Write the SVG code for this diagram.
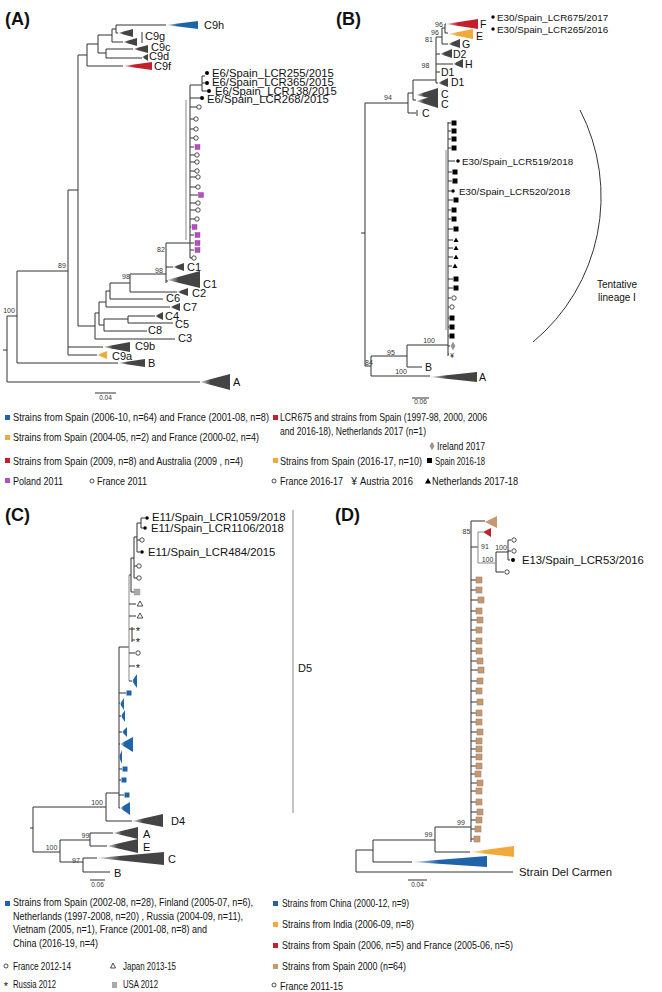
<svg xmlns="http://www.w3.org/2000/svg" width="662" height="992" viewBox="0 0 662 992">
<defs>
<linearGradient id="gGray" x1="0" x2="1" y1="0" y2="0"><stop offset="0" stop-color="#444" stop-opacity="0.15"/><stop offset="0.35" stop-color="#444"/><stop offset="1" stop-color="#444"/></linearGradient>
<linearGradient id="gBlue" x1="0" x2="1" y1="0" y2="0"><stop offset="0" stop-color="#1f64a8" stop-opacity="0.15"/><stop offset="0.35" stop-color="#1f64a8"/><stop offset="1" stop-color="#1f64a8"/></linearGradient>
<linearGradient id="gRed" x1="0" x2="1" y1="0" y2="0"><stop offset="0" stop-color="#c4202c" stop-opacity="0.2"/><stop offset="0.35" stop-color="#c4202c"/><stop offset="1" stop-color="#c4202c"/></linearGradient>
<linearGradient id="gOrange" x1="0" x2="1" y1="0" y2="0"><stop offset="0" stop-color="#f2a93b" stop-opacity="0.2"/><stop offset="0.35" stop-color="#f2a93b"/><stop offset="1" stop-color="#f2a93b"/></linearGradient>
</defs>
<style>
text{font-family:"Liberation Sans",Arial,sans-serif;fill:#111}
.br{fill:none;stroke:#333;stroke-width:1}
.brg{fill:none;stroke:#888;stroke-width:1}
.bsc{font-size:7px;fill:#333;text-anchor:middle}
.cl{font-size:11px}
.clb{font-size:10.5px}
.lf{font-size:11.3px}
.lf2{font-size:9.8px}
.lg{font-size:10.3px}
.pl{font-size:18px;font-weight:bold}
.sc{font-size:6.5px;text-anchor:middle;fill:#333}
.oc{fill:#fff;stroke:#222;stroke-width:0.8}
.dt{fill:#000}
.ast{font-size:11px;text-anchor:middle}
.gy{fill:url(#gGray)}
.bl{fill:url(#gBlue)}
.rd{fill:url(#gRed)}
.or{fill:url(#gOrange)}
.pu{fill:#b54fc0;stroke:#8a3a94;stroke-width:0.4}
.bk{fill:#000}
.tn{fill:#c9976d;stroke:#9a8878;stroke-width:0.6}
.bsq{fill:#1f64a8}
</style>

<!-- ================= PANEL A ================= -->
<g id="panelA">
<text class="pl" x="5" y="25">(A)</text>
<g id="A-connectors">
<path class="br" d="M3,350H7 M7,316V382 M7,316H17 M7,382H200 M17,271V363 M17,363H118 M17,271H68 M68,190V355 M68,190H78 M68,347H103 M68,355H97 M78,55V326 M78,55H87 M87,44V66 M87,66H123 M87,44H98 M98,35V53 M98,35H112 M112,29V42 M112,29H116 M116,25V33 M116,25H166 M116,33H118 M112,42H123 M98,53H106 M106,49V58 M106,49H133 M106,58H142"/>
<path class="br" d="M78,326H95 M95,313V339 M95,339H175 M95,313H99 M99,302V325 M99,325H104 M104,319V331 M104,331H147 M104,319H128 M128,316V323 M128,316H155 M128,323H173 M99,302H106 M106,291V307 M106,307H170 M106,291H110 M110,283V299 M110,299H163 M110,283H130 M130,274V292 M130,292H177 M130,274H166 M166,243V283 M166,267H173 M166,281H168 M166,243H190"/>
<path class="br" d="M190,85V258 M190,85H202 M202,76V91 M202,76H205 M202,83H205 M202,91H207 M190,98H200"/>
<path class="br" d="M190,107H197 M190,119H194 M190,129H194 M190,138H194 M190,147H194 M190,155H195 M190,162H195 M190,171H195 M190,177H196 M190,187H196 M190,195H198 M190,203H196 M190,210H196 M190,219H195 M190,227H191 M190,235H194 M190,243H194 M190,250H194 M190,258H192"/>
<path class="brg" d="M186,100V240" stroke-width="1.5"/>
<path class="br" d="M142,32V43"/>
<path class="br" d="M95,393H116"/>
</g>
<g id="A-clades">
<polygon id="A-C9h" class="bl" points="166,25 198,21 198,29"/>
<polygon id="A-C9g1" class="gy" points="118,33 133,29 133,37"/>
<polygon id="A-C9g2" class="gy" points="123,42 137,38 137,46"/>
<polygon id="A-C9c" class="gy" points="133,49 148,45 148,53"/>
<polygon id="A-C9d" class="gy" points="142,57 148,54 148,61"/>
<polygon id="A-C9f" class="rd" points="123,66 152,62 152,70"/>
<polygon id="A-C1a" class="gy" points="173,267 184,263 184,271"/>
<polygon id="A-C1b" class="gy" points="167,280 200,271 200,288"/>
<polygon id="A-C2" class="gy" points="177,292 188,288 188,296"/>
<polygon id="A-C7" class="gy" points="170,307 180,303 180,311"/>
<polygon id="A-C4" class="gy" points="155,316 163,312 163,320"/>
<polygon id="A-C9b" class="gy" points="103,347 130,342 130,352"/>
<polygon id="A-C9a" class="or" points="97,355 107,351 107,359"/>
<polygon id="A-B" class="gy" points="118,363 145,359 145,367"/>
<polygon id="A-A" class="gy" points="200,382 230,374 230,390"/>
</g>
<g id="A-leaves">
<circle class="dt" cx="207" cy="73" r="2"/>
<circle class="dt" cx="207" cy="83" r="2"/>
<circle class="dt" cx="209" cy="91" r="2"/>
<circle class="dt" cx="202" cy="98" r="2"/>
<circle class="oc" cx="199" cy="107" r="2.2"/>
<circle class="oc" cx="196" cy="119" r="2.2"/>
<circle class="oc" cx="196" cy="129" r="2.2"/>
<circle class="oc" cx="196" cy="138" r="2.2"/>
<rect class="pu" x="195" y="144.5" width="5" height="5"/>
<circle class="oc" cx="197" cy="155" r="2.2"/>
<circle class="oc" cx="197" cy="162" r="2.2"/>
<circle class="oc" cx="197" cy="171" r="2.2"/>
<circle class="oc" cx="198" cy="177" r="2.2"/>
<circle class="oc" cx="198" cy="187" r="2.2"/>
<rect class="pu" x="198.5" y="192.5" width="5" height="5"/>
<circle class="oc" cx="198" cy="203" r="2.2"/>
<circle class="oc" cx="198" cy="210" r="2.2"/>
<circle class="oc" cx="197" cy="219" r="2.2"/>
<rect class="pu" x="192" y="224.5" width="5" height="5"/>
<rect class="pu" x="195" y="232.5" width="5" height="5"/>
<rect class="pu" x="195" y="240.5" width="5" height="5"/>
<rect class="pu" x="195" y="247.5" width="5" height="5"/>
<circle class="oc" cx="194" cy="258" r="2.2"/>
</g>
<g id="A-labels">
<text class="cl" x="204" y="29">C9h</text>
<text class="cl" x="145" y="40">C9g</text>
<text class="cl" x="151" y="51">C9c</text>
<text class="cl" x="149" y="60">C9d</text>
<text class="cl" x="154" y="70">C9f</text>
<text class="lf" x="212" y="77">E6/Spain_LCR255/2015</text>
<text class="lf" x="212" y="86">E6/Spain_LCR365/2015</text>
<text class="lf" x="215" y="95">E6/Spain_LCR138/2015</text>
<text class="lf" x="207" y="103">E6/Spain_LCR268/2015</text>
<text class="cl" x="187" y="271">C1</text>
<text class="cl" x="203" y="288">C1</text>
<text class="cl" x="192" y="297">C2</text>
<text class="cl" x="166" y="302">C6</text>
<text class="cl" x="183" y="311">C7</text>
<text class="cl" x="165" y="320">C4</text>
<text class="cl" x="175" y="328">C5</text>
<text class="cl" x="148" y="334">C8</text>
<text class="cl" x="178" y="342">C3</text>
<text class="cl" x="135" y="350">C9b</text>
<text class="cl" x="112" y="360">C9a</text>
<text class="cl" x="148" y="367">B</text>
<text class="cl" x="233" y="386">A</text>
<text class="bsc" x="161" y="252">82</text>
<text class="bsc" x="159" y="273">98</text>
<text class="bsc" x="126" y="279">98</text>
<text class="bsc" x="62" y="268">89</text>
<text class="bsc" x="9" y="313">100</text>
<text class="sc" x="105.5" y="400">0.04</text>
</g>
</g>

<!-- ================= PANEL B ================= -->
<g id="panelB">
<text class="pl" x="336" y="25">(B)</text>
<g id="B-connectors">
<path class="br" d="M361,233H365 M365,103V366 M365,103H408 M408,93V113 M408,113H416 M408,93H413 M413,80V100 M413,100H416 M413,80H436 M436,37V83 M436,83H438 M436,72H440 M436,64H453 M436,54H440 M436,37H442 M442,28V44 M442,44H448 M442,28H445 M445,24V33 M445,24H446 M445,33H448"/>
<path class="br" d="M417,110V116"/>
<path class="br" d="M365,366H371 M371,356V376 M371,356H407 M407,345V367 M407,367H422 M407,345H448 M371,376H430"/>
<path class="br" d="M448,122V356 M448,123H451 M448,131H451 M448,139H451 M448,148H451 M448,161H455 M448,172H452 M448,181H452 M448,191H451 M448,200H453 M448,210H451 M448,219H451 M448,229H453 M448,240H453 M448,248H453 M448,257H453 M448,266H452 M448,279H453 M448,288H453 M448,298H451 M448,307H449 M448,318H449 M448,327H449 M448,336H449 M448,346H450 M448,354H449"/>
<path class="brg" d="M446,150V330" stroke-width="1.6"/>
<path class="br" d="M580,110A189,189 0 0 1 533,342"/>
<path class="br" d="M412,398H429"/>
</g>
<g id="B-clades">
<polygon id="B-F" class="rd" points="446,24 478,19 478,29"/>
<polygon id="B-E" class="or" points="448,34 473,29 473,39"/>
<polygon id="B-G" class="gy" points="448,44 460,39 460,48"/>
<polygon id="B-D2" class="gy" points="440,54 452,49 452,58"/>
<polygon id="B-H" class="gy" points="453,64 463,59 463,68"/>
<polygon id="B-D1" class="gy" points="438,83 448,78 448,87"/>
<polygon id="B-C1" class="gy" points="416,95 438,88 438,100"/>
<polygon id="B-C2" class="gy" points="416,101 438,95 438,108"/>
<polygon id="B-A" class="gy" points="430,377 477,372 477,382"/>
</g>
<g id="B-leaves">
<rect class="bk" x="451.5" y="120.5" width="5" height="5"/>
<rect class="bk" x="451.5" y="128.5" width="5" height="5"/>
<rect class="bk" x="451.5" y="136.5" width="5" height="5"/>
<rect class="bk" x="451.5" y="145.5" width="5" height="5"/>
<circle class="dt" cx="458" cy="161" r="1.8"/>
<rect class="bk" x="452.5" y="169.5" width="5" height="5"/>
<rect class="bk" x="452.5" y="178.5" width="5" height="5"/>
<circle class="dt" cx="453" cy="191" r="1.8"/>
<rect class="bk" x="453.5" y="197.5" width="5" height="5"/>
<rect class="bk" x="451.5" y="207.5" width="5" height="5"/>
<rect class="bk" x="451.5" y="216.5" width="5" height="5"/>
<rect class="bk" x="453.5" y="226.5" width="5" height="5"/>
<polygon class="bk" points="456,237.5 458.5,242 453.5,242"/>
<polygon class="bk" points="456,245.5 458.5,250 453.5,250"/>
<polygon class="bk" points="456,254.5 458.5,259 453.5,259"/>
<polygon class="bk" points="455,263.5 457.5,268 452.5,268"/>
<rect class="bk" x="453.5" y="276.5" width="5" height="5"/>
<rect class="bk" x="453.5" y="285.5" width="5" height="5"/>
<circle class="oc" cx="454" cy="298" r="2.2"/>
<circle class="oc" cx="452" cy="307" r="2.2"/>
<rect class="bk" x="449.5" y="315.5" width="5" height="5"/>
<rect class="bk" x="449.5" y="324.5" width="5" height="5"/>
<rect class="bk" x="449.5" y="333.5" width="5" height="5"/>
<polygon points="453,342.5 455,346 453,349.5 451,346" fill="#999" stroke="#666" stroke-width="0.5"/>
<text x="452" y="357.5" font-size="6.5" text-anchor="middle">¥</text>
</g>
<g id="B-labels">
<circle class="dt" cx="493" cy="17" r="1.7"/>
<text class="lf2" x="497" y="21">E30/Spain_LCR675/2017</text>
<circle class="dt" cx="493" cy="29" r="1.7"/>
<text class="lf2" x="497" y="33">E30/Spain_LCR265/2016</text>
<text class="lf2" x="462" y="165">E30/Spain_LCR519/2018</text>
<text class="lf2" x="459" y="195">E30/Spain_LCR520/2018</text>
<text class="clb" x="480" y="28">F</text>
<text class="clb" x="476" y="40">E</text>
<text class="clb" x="462" y="48">G</text>
<text class="clb" x="453" y="58">D2</text>
<text class="clb" x="465" y="68">H</text>
<text class="clb" x="441" y="76">D1</text>
<text class="clb" x="451" y="86">D1</text>
<text class="clb" x="441" y="98">C</text>
<text class="clb" x="441" y="108">C</text>
<text class="clb" x="422" y="117">C</text>
<text class="clb" x="425" y="371">B</text>
<text class="clb" x="479" y="381">A</text>
<text class="bsc" x="439" y="27">96</text>
<text class="bsc" x="435" y="35">96</text>
<text class="bsc" x="429" y="42">81</text>
<text class="bsc" x="425.5" y="68">98</text>
<text class="bsc" x="388" y="100">94</text>
<text class="bsc" x="369" y="365">84</text>
<text class="bsc" x="391" y="355">95</text>
<text class="bsc" x="429" y="343">100</text>
<text class="bsc" x="401" y="374">100</text>
<text x="617" y="288" font-size="10" text-anchor="middle">Tentative</text>
<text x="617" y="301" font-size="10" text-anchor="middle">lineage I</text>
<text class="sc" x="420.5" y="404" font-size="4px">0.06</text>
</g>
</g>

<!-- ================= LEGEND A/B ================= -->
<g id="legendAB">
<rect class="bsq" x="5" y="415" width="5" height="5"/>
<text class="lg" x="13" y="421" textLength="256" lengthAdjust="spacingAndGlyphs">Strains from Spain (2006-10, n=64) and France (2001-08, n=8)</text>
<rect x="5" y="435" width="5" height="5" fill="#f2a93b"/>
<text class="lg" x="13" y="441" textLength="246" lengthAdjust="spacingAndGlyphs">Strains from Spain (2004-05, n=2) and France (2000-02, n=4)</text>
<rect x="5" y="458" width="5" height="5" fill="#c4202c"/>
<text class="lg" x="13" y="465" textLength="230" lengthAdjust="spacingAndGlyphs">Strains from Spain (2009, n=8) and Australia (2009 , n=4)</text>
<rect x="5" y="478" width="5" height="5" fill="#b54fc0"/>
<text class="lg" x="13" y="485" textLength="50" lengthAdjust="spacingAndGlyphs">Poland 2011</text>
<circle class="oc" cx="92" cy="481" r="2"/>
<text class="lg" x="97" y="485" textLength="50" lengthAdjust="spacingAndGlyphs">France 2011</text>
<rect x="273" y="415" width="5" height="5" fill="#c4202c"/>
<text class="lg" x="280" y="421" textLength="207" lengthAdjust="spacingAndGlyphs">LCR675 and strains from Spain (1997-98, 2000, 2006</text>
<text class="lg" x="280" y="435" textLength="146" lengthAdjust="spacingAndGlyphs">and 2016-18), Netherlands 2017 (n=1)</text>
<polygon points="432,442.5 434,446 432,449.5 430,446" fill="#999" stroke="#666" stroke-width="0.5"/>
<text class="lg" x="437" y="450" textLength="48" lengthAdjust="spacingAndGlyphs">Ireland 2017</text>
<rect x="273" y="458" width="5" height="5" fill="#f2a93b"/>
<text class="lg" x="280" y="465" textLength="142" lengthAdjust="spacingAndGlyphs">Strains from Spain (2016-17, n=10)</text>
<rect class="bk" x="427" y="458" width="5" height="5"/>
<text class="lg" x="435" y="465" textLength="50" lengthAdjust="spacingAndGlyphs">Spain 2016-18</text>
<circle class="oc" cx="274" cy="481" r="2"/>
<text class="lg" x="280" y="485" textLength="63" lengthAdjust="spacingAndGlyphs">France 2016-17</text>
<text class="lg" x="354" y="485" text-anchor="middle">¥</text>
<text class="lg" x="360" y="485" textLength="53" lengthAdjust="spacingAndGlyphs">Austria 2016</text>
<polygon class="bk" points="428,478 431,483.5 425,483.5"/>
<text class="lg" x="432" y="485" textLength="86" lengthAdjust="spacingAndGlyphs">Netherlands 2017-18</text>
</g>

<!-- ================= PANEL C ================= -->
<g id="panelC">
<text class="pl" x="5" y="521">(C)</text>
<g id="C-connectors">
<path class="br" d="M30,828H33 M33,807V852 M33,807H106 M106,793V821 M106,821H132 M106,793H119 M33,852H60 M60,840V862 M60,840H90 M90,833V846 M90,833H113 M90,846H107 M60,862H83 M83,858V872 M83,858H97 M83,872H110"/>
<path class="br" d="M119,647V808 M119,647H129 M119,808H120 M119,795H124 M119,780H121 M119,769H122 M119,757H119 M119,744H120 M119,732H122 M119,716H121 M119,703H120 M119,693H126"/>
<path class="br" d="M141,518V528 M141,518H145 M141,528H143 M137,523V552 M137,523H141 M137,540H140 M137,552H140 M134,537V578 M134,537H137 M134,566H137 M134,578H137 M131,558V592 M131,558H134 M131,592H134 M131,575H129"/>
<path class="brg" d="M129,575V681" stroke-width="1.3"/>
<path class="br" d="M129,604H136 M129,616H136 M129,629H132 M132,627V642 M132,629H135 M132,640H135 M129,653H135 M129,666H135 M129,681H132"/>
<path class="brg" d="M293,510V813" stroke-width="1.2"/>
<path class="br" d="M90,880H105"/>
</g>
<g id="C-clades">
<polygon class="bl" points="132,681 137,674 137,688"/>
<polygon class="bl" points="120,704 124,698 124,710"/>
<polygon class="bl" points="121,716 125,710 125,722"/>
<polygon class="bl" points="122,732 127,727 127,737"/>
<polygon class="bl" points="120,744 133,737 133,752"/>
<polygon class="bl" points="119,757 122,750 122,764"/>
<polygon class="bl" points="120,808 130,802 130,815"/>
<polygon id="C-D4" class="gy" points="132,821 163,814 163,827"/>
<polygon id="C-A" class="gy" points="113,833 138,827 138,839"/>
<polygon id="C-E" class="gy" points="107,846 138,839 138,853"/>
<polygon id="C-C" class="gy" points="97,858 164,852 164,865"/>
</g>
<g id="C-leaves">
<circle class="dt" cx="147" cy="518" r="1.8"/>
<circle class="dt" cx="145" cy="528" r="1.8"/>
<circle class="oc" cx="142" cy="540" r="2.2"/>
<circle class="dt" cx="142" cy="552" r="1.8"/>
<circle class="oc" cx="139" cy="566" r="2.2"/>
<circle class="oc" cx="139" cy="578" r="2.2"/>
<rect x="134" y="589" width="6" height="6" fill="#aaa" stroke="#999" stroke-width="0.5"/>
<polygon points="140,601 142.8,606 137.2,606" fill="none" stroke="#222" stroke-width="0.8"/>
<polygon points="140,613 142.8,618 137.2,618" fill="none" stroke="#222" stroke-width="0.8"/>
<text class="ast" x="138" y="635">*</text>
<text class="ast" x="138" y="646">*</text>
<circle class="oc" cx="138" cy="653" r="2.2"/>
<text class="ast" x="138" y="672">*</text>
<rect class="bsq" x="126.5" y="690.5" width="5" height="5"/>
<rect class="bsq" x="122.5" y="766.5" width="5" height="5"/>
<rect class="bsq" x="121.5" y="777.5" width="5" height="5"/>
<rect class="bsq" x="124.5" y="792.5" width="5" height="5"/>
</g>
<g id="C-labels">
<text class="lf" x="152" y="521">E11/Spain_LCR1059/2018</text>
<text class="lf" x="151" y="532">E11/Spain_LCR1106/2018</text>
<text class="lf" x="148" y="556">E11/Spain_LCR484/2015</text>
<text class="cl" x="298" y="672">D5</text>
<text class="cl" x="171" y="825">D4</text>
<text class="cl" x="143" y="838">A</text>
<text class="cl" x="143" y="851">E</text>
<text class="cl" x="168" y="863">C</text>
<text class="cl" x="114" y="877">B</text>
<text class="bsc" x="97" y="805">100</text>
<text class="bsc" x="51.5" y="850">100</text>
<text class="bsc" x="85.5" y="838">99</text>
<text class="bsc" x="76" y="863">97</text>
<text class="sc" x="97.5" y="887">0.06</text>
</g>
</g>

<!-- ================= PANEL D ================= -->
<g id="panelD">
<text class="pl" x="335" y="521">(D)</text>
<g id="D-connectors">
<path class="br" d="M356,850V872 M356,850H373 M373,840V862 M373,862H412 M373,840H435 M435,827V852 M435,852H470 M435,827H471 M356,872H513"/>
<path class="br" d="M471,521V842 M471,521H485 M471,547H478 M496,552V572 M496,552H508 M508,540V560 M508,540H511 M508,551H511 M508,560H510 M496,572H504"/>
<path class="brg" d="M478,532V563 M478,532H483 M478,563H496" stroke-width="1.2"/>
<path class="br" d="M471,580H476 M471,590H476 M471,600H478 M471,611H476 M471,620H477 M471,630H476 M471,641H476 M471,651H476 M471,661H477 M471,670H478 M471,681H477 M471,691H476 M471,702H477 M471,713H476 M471,722H476 M471,732H477 M471,741H476 M471,749H476 M471,757H476 M471,766H476 M471,774H475 M471,783H477 M471,791H476 M471,802H476 M471,812H477 M471,820H476 M471,829H475 M471,839H474"/>
<path class="br" d="M408,880H427"/>
</g>
<g id="D-clades">
<polygon points="485,522 497,516 497,528" fill="#c9976d"/>
<polygon points="483,532 491,528 491,537" fill="#c4202c"/>
<polygon id="D-India" class="or" points="470,852 514,846 514,857"/>
<polygon id="D-China" class="bl" points="412,862 487,856 487,867"/>
</g>
<g id="D-leaves">
<circle class="oc" cx="514" cy="540" r="2.2"/>
<circle class="oc" cx="514" cy="551" r="2.2"/>
<circle class="dt" cx="513" cy="560" r="2"/>
<circle class="oc" cx="507" cy="572" r="2.2"/>
<rect class="tn" x="476" y="577" width="6" height="6"/>
<rect class="tn" x="476" y="587" width="6" height="6"/>
<rect class="tn" x="478" y="597" width="6" height="6"/>
<rect class="tn" x="476" y="608" width="6" height="6"/>
<rect class="tn" x="477" y="617" width="6" height="6"/>
<rect class="tn" x="476" y="627" width="6" height="6"/>
<rect class="tn" x="476" y="638" width="6" height="6"/>
<rect class="tn" x="476" y="648" width="6" height="6"/>
<rect class="tn" x="477" y="658" width="6" height="6"/>
<rect class="tn" x="478" y="667" width="6" height="6"/>
<rect class="tn" x="477" y="678" width="6" height="6"/>
<rect class="tn" x="476" y="688" width="6" height="6"/>
<rect class="tn" x="477" y="699" width="6" height="6"/>
<rect class="tn" x="476" y="710" width="6" height="6"/>
<rect class="tn" x="476" y="719" width="6" height="6"/>
<rect class="tn" x="477" y="729" width="6" height="6"/>
<rect class="tn" x="476" y="738" width="6" height="6"/>
<rect class="tn" x="476" y="746" width="6" height="6"/>
<rect class="tn" x="476" y="754" width="6" height="6"/>
<rect class="tn" x="476" y="763" width="6" height="6"/>
<rect class="tn" x="475" y="771" width="6" height="6"/>
<rect class="tn" x="477" y="780" width="6" height="6"/>
<rect class="tn" x="476" y="788" width="6" height="6"/>
<rect class="tn" x="476" y="799" width="6" height="6"/>
<rect class="tn" x="477" y="809" width="6" height="6"/>
<rect class="tn" x="476" y="817" width="6" height="6"/>
<rect class="tn" x="475" y="826" width="6" height="6"/>
<rect class="tn" x="474" y="836" width="6" height="6"/>
</g>
<g id="D-labels">
<text class="lf" x="522" y="564">E13/Spain_LCR53/2016</text>
<text class="lf" x="519" y="876">Strain Del Carmen</text>
<text class="bsc" x="466.5" y="534">85</text>
<text class="bsc" x="485" y="549">91</text>
<text class="bsc" x="487.5" y="562">100</text>
<text class="bsc" x="501" y="550">100</text>
<text class="bsc" x="461" y="825">99</text>
<text class="bsc" x="428.5" y="837">99</text>
<text class="sc" x="417.5" y="887">0.04</text>
</g>
</g>

<!-- ================= LEGEND C/D ================= -->
<g id="legendCD">
<rect class="bsq" x="5" y="901" width="5" height="5"/>
<text class="lg" x="13" y="906" textLength="240" lengthAdjust="spacingAndGlyphs">Strains from Spain (2002-08, n=28), Finland (2005-07, n=6),</text>
<text class="lg" x="13" y="920" textLength="230" lengthAdjust="spacingAndGlyphs">Netherlands (1997-2008, n=20) , Russia (2004-09, n=11),</text>
<text class="lg" x="13" y="933" textLength="194" lengthAdjust="spacingAndGlyphs">Vietnam (2005, n=1), France (2001-08, n=8) and</text>
<text class="lg" x="13" y="947" textLength="85" lengthAdjust="spacingAndGlyphs">China (2016-19, n=4)</text>
<circle class="oc" cx="6" cy="966" r="2"/>
<text class="lg" x="13" y="970" textLength="58" lengthAdjust="spacingAndGlyphs">France 2012-14</text>
<polygon points="113,963 115.5,968 110.5,968" fill="none" stroke="#222" stroke-width="0.8"/>
<text class="lg" x="123" y="970" textLength="53" lengthAdjust="spacingAndGlyphs">Japan 2013-15</text>
<text class="ast" x="6" y="990">*</text>
<text class="lg" x="13" y="988" textLength="43" lengthAdjust="spacingAndGlyphs">Russia 2012</text>
<rect x="112" y="982" width="5" height="6" fill="#aaa"/>
<text class="lg" x="123" y="988" textLength="35" lengthAdjust="spacingAndGlyphs">USA 2012</text>
<rect class="bsq" x="273" y="901" width="5" height="5"/>
<text class="lg" x="282" y="907" textLength="127" lengthAdjust="spacingAndGlyphs">Strains from China (2000-12, n=9)</text>
<rect x="273" y="922" width="5" height="5" fill="#f2a93b"/>
<text class="lg" x="282" y="928" textLength="132" lengthAdjust="spacingAndGlyphs">Strains from India (2006-09, n=8)</text>
<rect x="273" y="943" width="5" height="5" fill="#c4202c"/>
<text class="lg" x="282" y="949" textLength="231" lengthAdjust="spacingAndGlyphs">Strains from Spain (2006, n=5) and France (2005-06, n=5)</text>
<rect x="273" y="964" width="5" height="5" fill="#c9976d"/>
<text class="lg" x="282" y="970" textLength="124" lengthAdjust="spacingAndGlyphs">Strains from Spain 2000 (n=64)</text>
<circle class="oc" cx="274" cy="985" r="2"/>
<text class="lg" x="280" y="990" textLength="63" lengthAdjust="spacingAndGlyphs">France 2011-15</text>
</g>
</svg>
